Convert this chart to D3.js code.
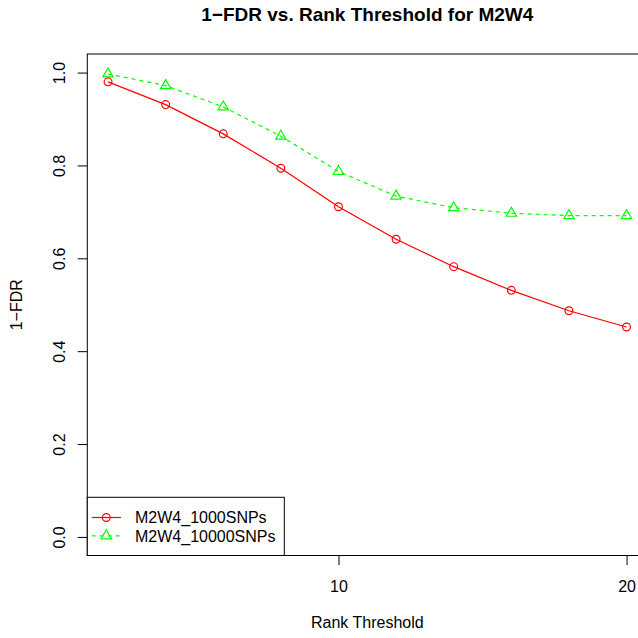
<!DOCTYPE html>
<html lang="en">
    <head>
        <meta charset="utf-8">
        <title>1-FDR vs. Rank Threshold</title>
        <script src="https://d3js.org/d3.v7.min.js"></script>
        <style>
            body { margin: 0; background: #fff; }
            text { font-family: "Liberation Sans", Arial, sans-serif; }
        </style>
    </head>

    <body>
        <div id="chart"></div>

        <script>

            // data
            var ranks = [2, 4, 6, 8, 10, 12, 14, 16, 18, 20];
            var snp1000 = [0.980, 0.931, 0.868, 0.794, 0.711, 0.641, 0.582, 0.531, 0.487, 0.452];
            var snp10000 = [0.997, 0.972, 0.926, 0.863, 0.787, 0.734, 0.709, 0.697, 0.692, 0.692];
            var seriesNames = ["M2W4_1000SNPs", "M2W4_10000SNPs"];
            var xTicks = [10, 20];
            var yTicks = [0, 0.2, 0.4, 0.6, 0.8, 1.0];

            var W = 638, H = 638;
            var box = { left: 87.3, right: 647.3, top: 54, bottom: 555.5 };

            var svg = d3.select("#chart")
                        .append("svg")
                        .attr("width", W)
                        .attr("height", H);

            svg.append("rect")
                .attr("width", W).attr("height", H)
                .style("fill", "#fff");

            // R style 4% padding on both axes
            var x = d3.scaleLinear()
                      .domain([1.28, 20.72])
                      .range([box.left, box.right]);

            var y = d3.scaleLinear()
                      .domain([-0.04, 1.04])
                      .range([box.bottom, box.top]);

            // title
            svg.append("text")
                .attr("x", (box.left + box.right) / 2)
                .attr("y", 21)
                .attr("text-anchor", "middle")
                .style("font-size", "19px")
                .style("font-weight", "bold")
                .text("1\u2212FDR vs. Rank Threshold for M2W4");

            // x axis
            var xAxis = svg.append("g")
                .attr("transform", "translate(0," + box.bottom + ")")
                .call(d3.axisBottom(x).tickValues(xTicks).tickSize(9.6).tickPadding(0).tickFormat(d3.format("d")));
            xAxis.select(".domain").remove();
            xAxis.selectAll(".tick line").attr("stroke", "#000");
            xAxis.selectAll(".tick text")
                .attr("y", 36).attr("dy", null)
                .style("font-size", "16px")
                .attr("fill", "#000");

            // y axis, labels turned like in R
            var yAxis = svg.append("g")
                .attr("transform", "translate(" + box.left + ",0)")
                .call(d3.axisLeft(y).tickValues(yTicks).tickSize(9.6).tickFormat(d3.format(".1f")));
            yAxis.select(".domain").remove();
            yAxis.selectAll(".tick line").attr("stroke", "#000");
            yAxis.selectAll(".tick text")
                .attr("x", null).attr("dy", null)
                .attr("transform", "translate(-22,0) rotate(-90)")
                .attr("text-anchor", "middle")
                .style("font-size", "16px")
                .attr("fill", "#000");

            // axis titles
            svg.append("text")
                .attr("x", (box.left + box.right) / 2)
                .attr("y", 628.3)
                .attr("text-anchor", "middle")
                .style("font-size", "16px")
                .text("Rank Threshold");

            svg.append("text")
                .attr("transform", "translate(22," + (box.top + box.bottom) / 2 + ") rotate(-90)")
                .attr("text-anchor", "middle")
                .style("font-size", "16px")
                .text("1\u2212FDR");

            var line = d3.line()
                .x(function(d){ return x(d[0]); })
                .y(function(d){ return y(d[1]); });

            var red = "#ff0000", green = "#00ff00";

            function triangle(cx, cy) {
                var r = 6, h = 5.2;
                return "M" + cx + "," + (cy - r) + "L" + (cx + h) + "," + (cy + r / 2) +
                       "L" + (cx - h) + "," + (cy + r / 2) + "Z";
            }

            // series 1: solid red with open circles
            var d1 = ranks.map(function(r, i){ return [r, snp1000[i]]; });
            svg.append("path")
                .datum(d1)
                .attr("d", line)
                .style("fill", "none")
                .style("stroke", red)
                .style("stroke-width", 1.2);
            svg.append("g")
                .selectAll("circle")
                .data(d1)
                .enter()
                .append("circle")
                .attr("cx", function(d){ return x(d[0]); })
                .attr("cy", function(d){ return y(d[1]); })
                .attr("r", 3.9)
                .style("fill", "none")
                .style("stroke", red)
                .style("stroke-width", 1.2);

            // series 2: dashed green with open triangles
            var d2 = ranks.map(function(r, i){ return [r, snp10000[i]]; });
            svg.append("path")
                .datum(d2)
                .attr("d", line)
                .style("fill", "none")
                .style("stroke", green)
                .style("stroke-width", 1.2)
                .style("stroke-dasharray", "4,4");
            svg.append("g")
                .selectAll("path")
                .data(d2)
                .enter()
                .append("path")
                .attr("d", function(d){ return triangle(x(d[0]), y(d[1])); })
                .style("fill", "none")
                .style("stroke", green)
                .style("stroke-width", 1.2);

            // plot box
            svg.append("rect")
                .attr("x", box.left).attr("y", box.top)
                .attr("width", box.right - box.left)
                .attr("height", box.bottom - box.top)
                .style("fill", "none")
                .style("stroke", "#000");

            // legend
            var lg = svg.append("g");
            lg.append("rect")
                .attr("x", box.left).attr("y", 497.3)
                .attr("width", 197).attr("height", box.bottom - 497.3)
                .style("fill", "#fff")
                .style("stroke", "#000");

            var rowsY = [517.5, 535.8];
            lg.append("line")
                .attr("x1", 91.7).attr("x2", 121).attr("y1", rowsY[0]).attr("y2", rowsY[0])
                .style("stroke", red).style("stroke-width", 1.2);
            lg.append("circle")
                .attr("cx", 106.3).attr("cy", rowsY[0]).attr("r", 3.9)
                .style("fill", "none").style("stroke", red).style("stroke-width", 1.2);
            lg.append("line")
                .attr("x1", 91.7).attr("x2", 121).attr("y1", rowsY[1]).attr("y2", rowsY[1])
                .style("stroke", green).style("stroke-width", 1.2)
                .style("stroke-dasharray", "4,4");
            lg.append("path")
                .attr("d", triangle(106.3, rowsY[1]))
                .style("fill", "none").style("stroke", green).style("stroke-width", 1.2);

            lg.selectAll("text.lab")
                .data(seriesNames)
                .enter()
                .append("text")
                .attr("class", "lab")
                .attr("x", 135)
                .attr("y", function(d, i){ return rowsY[i] + 5.8; })
                .style("font-size", "16px")
                .text(function(d){ return d; });

        </script>
    </body>
</html>
